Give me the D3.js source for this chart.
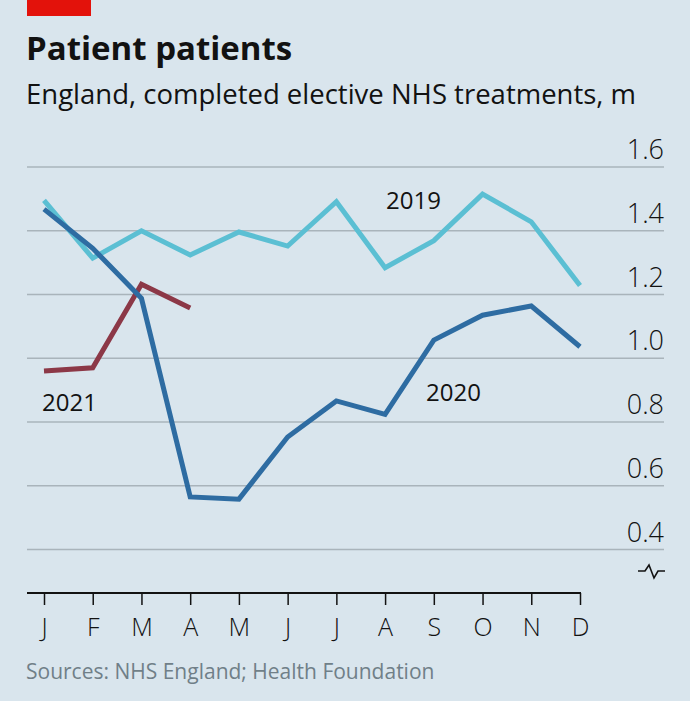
<!DOCTYPE html>
<html>
<head>
<meta charset="utf-8">
<script src="https://cdn.jsdelivr.net/npm/d3@7"></script>
<style>
  html, body { margin: 0; padding: 0; background: #d9e5ed; }
  svg { display: block; }
  text { font-family: "Open Sans", "Noto Sans", sans-serif; }
</style>
</head>
<body>
<script>
const months = ["J","F","M","A","M","J","J","A","S","O","N","D"];
const values2019 = [1.495, 1.314, 1.400, 1.324, 1.396, 1.352, 1.491, 1.284, 1.369, 1.515, 1.428, 1.228];
const values2020 = [1.468, 1.345, 1.188, 0.565, 0.558, 0.753, 0.866, 0.824, 1.057, 1.135, 1.164, 1.036];
const values2021 = [0.960, 0.970, 1.232, 1.158];
const yTicks = [0.4, 0.6, 0.8, 1.0, 1.2, 1.4, 1.6];
const yTickLabels = ["0.4", "0.6", "0.8", "1.0", "1.2", "1.4", "1.6"];

const W = 690, H = 701;
const svg = d3.select("body").append("svg").attr("width", W).attr("height", H);
svg.append("rect").attr("width", W).attr("height", H).attr("fill", "#d9e5ed");

// red tag
svg.append("rect").attr("x", 27).attr("y", 0).attr("width", 64).attr("height", 16).attr("fill", "#e3120b");

svg.append("text").attr("x", 26).attr("y", 60)
  .attr("font-size", 33).attr("font-weight", 700).attr("fill", "#121212")
  .text("Patient patients");
svg.append("text").attr("x", 26).attr("y", 104)
  .attr("font-size", 27.5).attr("fill", "#121212")
  .text("England, completed elective NHS treatments, m");

const x = d3.scalePoint().domain(d3.range(12)).range([44, 580]);
const y = d3.scaleLinear().domain([0.4, 1.6]).range([549.5, 167]);

// gridlines + labels
const grid = svg.append("g");
yTicks.forEach((t, i) => {
  grid.append("line").attr("x1", 27).attr("x2", 664)
    .attr("y1", y(t)).attr("y2", y(t))
    .attr("stroke", "#a9b4bb").attr("stroke-width", 1.5);
  grid.append("text").attr("x", 664).attr("y", y(t) - 8)
    .attr("text-anchor", "end").attr("font-size", 27).attr("font-weight", 300)
    .attr("fill", "#121212").text(yTickLabels[i]);
});

// axis break symbol
svg.append("path")
  .attr("d", "M638,571 L645,571 L649,565 L654,578 L658,571 L665,571")
  .attr("fill", "none").attr("stroke", "#121212").attr("stroke-width", 1.6);

// x axis
const xAxis = d3.axisBottom(x).tickFormat(i => months[i]).tickSize(12).tickPadding(13);
const gx = svg.append("g").attr("transform", "translate(0,593)").call(xAxis);
gx.select(".domain").remove();
gx.append("line").attr("x1", 27).attr("x2", 581).attr("y1", 0).attr("y2", 0)
  .attr("stroke", "#121212").attr("stroke-width", 2);
gx.selectAll(".tick line").attr("stroke", "#121212").attr("stroke-width", 1.5);
gx.selectAll(".tick text").attr("font-size", 25).attr("font-weight", 300)
  .attr("fill", "#121212").attr("font-family", "\"Open Sans\", sans-serif");

const line = d3.line().x((d, i) => x(i)).y(d => y(d));
const series = [
  { v: values2019, c: "#5bbfd3" },
  { v: values2021, c: "#8c3847" },
  { v: values2020, c: "#2e6ca2" }
];
series.forEach(s => {
  svg.append("path").datum(s.v).attr("d", line)
    .attr("fill", "none").attr("stroke", s.c).attr("stroke-width", 5)
    .attr("stroke-linejoin", "miter").attr("stroke-linecap", "butt");
});

// series labels
const lab = (tx, xx, yy) => svg.append("text").attr("x", xx).attr("y", yy)
  .attr("font-size", 24).attr("fill", "#121212").text(tx);
lab("2019", 386, 209);
lab("2021", 42, 411);
lab("2020", 426, 401);

svg.append("text").attr("x", 26).attr("y", 679)
  .attr("font-size", 21).attr("fill", "#707f88")
  .text("Sources: NHS England; Health Foundation");
</script>
</body>
</html>
